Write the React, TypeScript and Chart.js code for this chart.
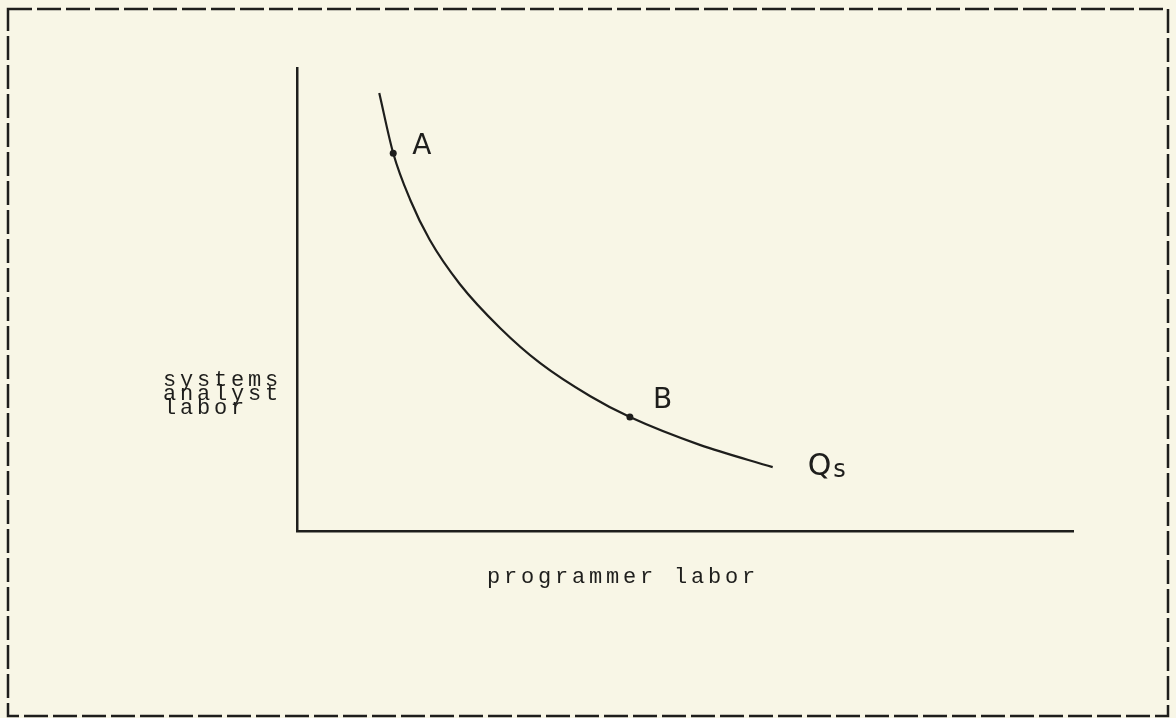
import React, { useEffect, useRef } from "react";
import { Chart, registerables } from "chart.js";

Chart.register(...registerables);

// Isoquant Qs (x: programmer labor, y: systems analyst labor, 0-100 scale)
const curveX = [10.6, 12.4, 14.6, 17.1, 21.0, 26.2, 31.3, 37.8, 42.9, 51.9, 61.3];
const curveY = [94.6, 81.6, 71.5, 62.9, 53.3, 43.8, 36.3, 29.1, 24.6, 18.6, 13.8];

// Marked points on the curve
const pointLabels = ["A", "B"];
const pointX = [12.4, 42.9];
const pointY = [81.6, 24.6];

const curveLabel = ["Q", "s"];
const xTitle = "programmer labor";
const yTitle = ["systems", "analyst", "labor"];

const BG = "#f8f6e6";
const INK = "#1e1e1c";

const decorPlugin = {
  id: "decor",
  beforeDraw(chart: any) {
    const ctx = chart.ctx;
    ctx.save();
    ctx.fillStyle = BG;
    ctx.fillRect(0, 0, chart.width, chart.height);
    ctx.strokeStyle = INK;
    ctx.lineWidth = 2.5;
    ctx.setLineDash([24, 5]);
    ctx.strokeRect(8, 9, 1160, 707);
    ctx.restore();
  },
  afterDraw(chart: any) {
    const ctx = chart.ctx;
    const xs = chart.scales.x;
    const ys = chart.scales.y;
    ctx.save();
    ctx.fillStyle = INK;
    ctx.textBaseline = "alphabetic";
    ctx.textAlign = "left";
    // point labels
    ctx.font = '28px "DejaVu Sans"';
    const offs = [
      [19, 1],
      [23, -9],
    ];
    pointLabels.forEach((t, i) => {
      const px = xs.getPixelForValue(pointX[i]);
      const py = ys.getPixelForValue(pointY[i]);
      ctx.fillText(t, px + offs[i][0], py + offs[i][1]);
    });
    // curve label
    const ex = xs.getPixelForValue(curveX[curveX.length - 1]);
    const ey = ys.getPixelForValue(curveY[curveY.length - 1]);
    ctx.font = '30px "DejaVu Sans"';
    ctx.fillText(curveLabel[0], ex + 35, ey + 8);
    const qw = ctx.measureText(curveLabel[0]).width;
    ctx.font = '24px "DejaVu Sans"';
    ctx.fillText(curveLabel[1], ex + 37 + qw, ey + 10);
    // axis titles (typewriter)
    ctx.font = '22px "Liberation Mono"';
    (ctx as any).letterSpacing = "3.8px";
    yTitle.forEach((t, i) => {
      ctx.fillText(t, 163, 386 + i * 14);
    });
    ctx.fillText(xTitle, 487, 583);
    ctx.restore();
  },
};

export default function App() {
  const ref = useRef<HTMLCanvasElement | null>(null);
  useEffect(() => {
    if (!ref.current) return;
    const chart = new Chart(ref.current, {
      type: "line",
      data: {
        datasets: [
          {
            label: "Qs",
            data: curveX.map((x, i) => ({ x, y: curveY[i] })),
            borderColor: INK,
            borderWidth: 2.2,
            pointRadius: 0,
            cubicInterpolationMode: "monotone",
            fill: false,
          },
          {
            label: "points",
            data: pointX.map((x, i) => ({ x, y: pointY[i] })),
            showLine: false,
            pointRadius: 3.5,
            pointBackgroundColor: INK,
            pointBorderWidth: 0,
          },
        ],
      },
      options: {
        animation: false,
        responsive: false,
        maintainAspectRatio: false,
        events: [],
        layout: { padding: { left: 297, right: 103, top: 68, bottom: 187 } },
        plugins: { legend: { display: false }, tooltip: { enabled: false } },
        scales: {
          x: {
            type: "linear",
            min: 0,
            max: 100,
            ticks: { display: false },
            grid: { display: false, drawTicks: false },
            border: { display: true, color: INK, width: 2.5 },
          },
          y: {
            type: "linear",
            min: 0,
            max: 100,
            ticks: { display: false },
            grid: { display: false, drawTicks: false },
            border: { display: true, color: INK, width: 2.5 },
          },
        },
      },
      plugins: [decorPlugin],
    });
    return () => chart.destroy();
  }, []);
  return (
    <div style={{ position: "fixed", left: 0, top: 0, width: 1176, height: 718, background: BG }}>
      <canvas ref={ref} width={1176} height={718} style={{ display: "block" }} />
    </div>
  );
}
